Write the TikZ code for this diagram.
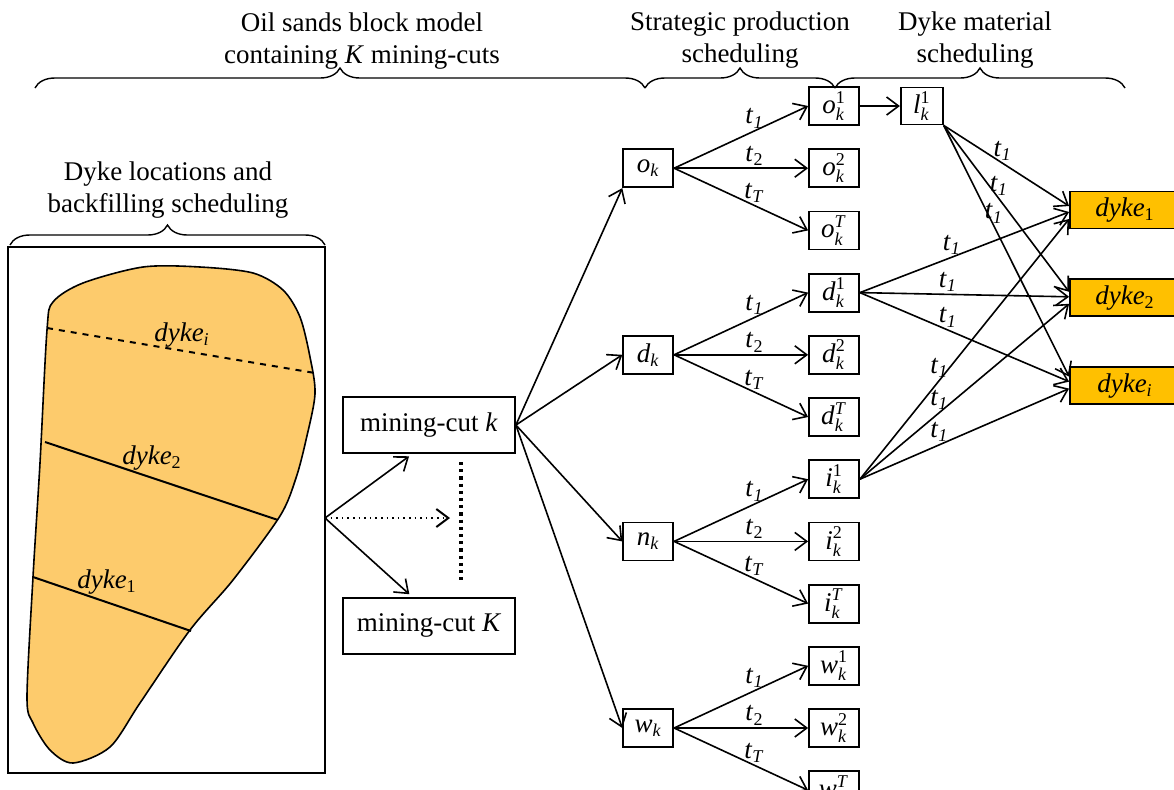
\documentclass[tikz,border=0pt]{standalone}
\usepackage{fontspec}
\setmainfont{Liberation Serif}
\usepackage{tikz}
\usetikzlibrary{positioning,arrows.meta,decorations.pathreplacing}
\definecolor{sandfill}{RGB}{253,203,108}
\definecolor{dykefill}{RGB}{255,192,0}
\newcommand{\smallsub}{\fontsize{9}{10}\selectfont}
\newcommand{\mvar}[3]{\textit{#1}$^{\hbox{\smallsub #2}}_{\hbox{\smallsub\textit{#3}}}$}
\newcommand{\svar}[2]{\textit{#1}$_{\hbox{\smallsub\textit{#2}}}$}
\newcommand{\tlab}[1]{\textit{t}$_{\hbox{\smallsub #1}}$}
\newcommand{\dyk}[1]{\textit{dyke}$_{\hbox{\smallsub #1}}$}

\begin{document}
\begin{tikzpicture}[x=0.5pt, y=-0.5pt, font=\fontsize{13.5}{16}\selectfont,
    every node/.style={inner sep=1pt}, node distance=11.2pt,
    box/.style={draw, line width=0.9pt, minimum width=25pt, minimum height=19pt},
    cutbox/.style={draw, line width=0.9pt, minimum width=86pt, minimum height=28pt},
    dykebox/.style={draw, line width=0.9pt, fill=dykefill, minimum width=55pt, minimum height=18.5pt},
    arr/.style={-{Straight Barb[length=6pt,width=9pt]}, line width=0.8pt},
    tlbl/.style={above, inner sep=1pt},
    brc/.style={decorate, decoration={brace, amplitude=10pt}, line width=0.7pt}]
    \useasboundingbox (0,0) rectangle (1174,789);

    \node[align=center] (blocktxt) at (362,41) {Oil sands block model\\containing \textit{K} mining-cuts};
    \node[align=center] (strattxt) at (740,40) {Strategic production\\scheduling};
    \node[align=center] (dyketxt) at (975,40) {Dyke material\\scheduling};
    \node[align=center] (loctxt) at (168,190) {Dyke locations and\\backfilling scheduling};
    \draw[brc] (35,88) -- (645,88);
    \draw[brc] (645,88) -- (835,88);
    \draw[brc] (835,88) -- (1125,88);
    \draw[brc] (10,245) -- (325,245);

    \draw[line width=0.8pt] (8,247) rectangle (325,773);
    \draw[fill=sandfill, line width=0.8pt] plot[smooth cycle, tension=0.5] coordinates {
        (53,302) (83,283) (143,267) (200,267) (253,273) (283,290) (300,317) (310,357)
        (315,394) (306,440) (296,478) (280,516) (233,580) (190,630) (140,703) (110,747)
        (73,763) (50,750) (33,723) (27,697) (33,577) (40,463) (47,330)};
    \draw[line width=1pt, dashed] (47,328) -- (315,373);
    \draw[line width=1pt] (45,442) -- (278,520);
    \draw[line width=1pt] (33,577) -- (191,631);
    \node (lbldi) at (182,335) {\dyk{\textit{i}}};
    \node (lbld2) at (152,458) {\dyk{2}};
    \node (lbld1) at (107,582) {\dyk{1}};

    \node[cutbox] (mk) at (429,425) {mining-cut \textit{k}};
    \node[cutbox, below=71.5pt of mk] (mK) {mining-cut \textit{K}};
    \coordinate (src) at (325,518);
    \coordinate (dotend) at (450,518);
    \draw[arr, shorten >=2pt] (src) -- (mk.240);
    \draw[arr, shorten >=2pt] (src) -- (mK.120);
    \draw[arr, dotted, line width=1pt] (src) -- (dotend);
    \draw[line width=1.6pt, dotted] (461,462) -- (461,580);

    \node[box] (ok1) at (834,106) {\mvar{o}{1}{k}};
    \node[box, below=of ok1] (ok2) {\mvar{o}{2}{k}};
    \node[box, below=of ok2] (okT) {\mvar{o}{\textit{T}}{k}};
    \node[box, below=of okT] (dk1) {\mvar{d}{1}{k}};
    \node[box, below=of dk1] (dk2) {\mvar{d}{2}{k}};
    \node[box, below=of dk2] (dkT) {\mvar{d}{\textit{T}}{k}};
    \node[box, below=of dkT] (ik1) {\mvar{i}{1}{k}};
    \node[box, below=of ik1] (ik2) {\mvar{i}{2}{k}};
    \node[box, below=of ik2] (ikT) {\mvar{i}{\textit{T}}{k}};
    \node[box, below=of ikT] (wk1) {\mvar{w}{1}{k}};
    \node[box, below=of wk1] (wk2) {\mvar{w}{2}{k}};
    \node[box, below=of wk2] (wkT) {\mvar{w}{\textit{T}}{k}};

    \node[box, left=67pt of ok2] (ok) {\svar{o}{k}};
    \node[box, left=67pt of dk2] (dk) {\svar{d}{k}};
    \node[box, left=67pt of ik2] (nk) {\svar{n}{k}};
    \node[box, left=67pt of wk2] (wk) {\svar{w}{k}};

    \node[box, minimum width=21pt, minimum height=18.5pt, right=20pt of ok1] (lk) {\mvar{l}{1}{k}};

    \node[dykebox] (dyke1) at (1125,210) {\dyk{1}};
    \node[dykebox, below=24.5pt of dyke1] (dyke2) {\dyk{2}};
    \node[dykebox, below=24.5pt of dyke2] (dykei) {\dyk{\textit{i}}};

    \draw[arr] (mk.east) -- (ok.south west);
    \draw[arr] (mk.east) -- (dk.west);
    \draw[arr] (mk.east) -- (nk.west);
    \draw[arr] (mk.east) -- (wk.west);

    \draw[arr] (ok.east) -- node[tlbl, pos=.6] {\tlab{\textit{1}}} (ok1.west);
    \draw[arr] (ok.east) -- node[tlbl, pos=.6] {\tlab{2}} (ok2.west);
    \draw[arr] (ok.east) -- node[tlbl, pos=.6] {\tlab{\textit{T}}} (okT.west);
    \draw[arr] (dk.east) -- node[tlbl, pos=.6] {\tlab{\textit{1}}} (dk1.west);
    \draw[arr] (dk.east) -- node[tlbl, pos=.6] {\tlab{2}} (dk2.west);
    \draw[arr] (dk.east) -- node[tlbl, pos=.6] {\tlab{\textit{T}}} (dkT.west);
    \draw[arr] (nk.east) -- node[tlbl, pos=.6] {\tlab{\textit{1}}} (ik1.west);
    \draw[arr] (nk.east) -- node[tlbl, pos=.6] {\tlab{2}} (ik2.west);
    \draw[arr] (nk.east) -- node[tlbl, pos=.6] {\tlab{\textit{T}}} (ikT.west);
    \draw[arr] (wk.east) -- node[tlbl, pos=.6] {\tlab{\textit{1}}} (wk1.west);
    \draw[arr] (wk.east) -- node[tlbl, pos=.6] {\tlab{2}} (wk2.west);
    \draw[arr] (wk.east) -- node[tlbl, pos=.6] {\tlab{\textit{T}}} (wkT.west);

    \draw[arr] (ok1) -- (lk);

    \draw[arr] (lk.south east) -- node[tlbl, pos=.47] {\tlab{\textit{1}}} ([yshift=2pt]dyke1.west);
    \draw[arr] (lk.south east) -- node[tlbl, pos=.44] {\tlab{\textit{1}}} ([yshift=3pt]dyke2.west);
    \draw[arr] (lk.south east) -- node[tlbl, pos=.40] {\tlab{\textit{1}}} ([yshift=4.5pt]dykei.west);
    \draw[arr] (dk1.east) -- node[tlbl, pos=.44] {\tlab{\textit{1}}} ([yshift=-1pt]dyke1.west);
    \draw[arr] (dk1.east) -- node[tlbl, pos=.42] {\tlab{\textit{1}}} ([yshift=0.5pt]dyke2.west);
    \draw[arr] (dk1.east) -- node[tlbl, pos=.42] {\tlab{\textit{1}}} ([yshift=2pt]dykei.west);
    \draw[arr] (ik1.east) -- node[tlbl, pos=.38] {\tlab{\textit{1}}} ([yshift=-4.5pt]dyke1.west);
    \draw[arr] (ik1.east) -- node[tlbl, pos=.38] {\tlab{\textit{1}}} ([yshift=-3pt]dyke2.west);
    \draw[arr] (ik1.east) -- node[tlbl, pos=.38] {\tlab{\textit{1}}} ([yshift=-1.5pt]dykei.west);
\end{tikzpicture}
\end{document}
